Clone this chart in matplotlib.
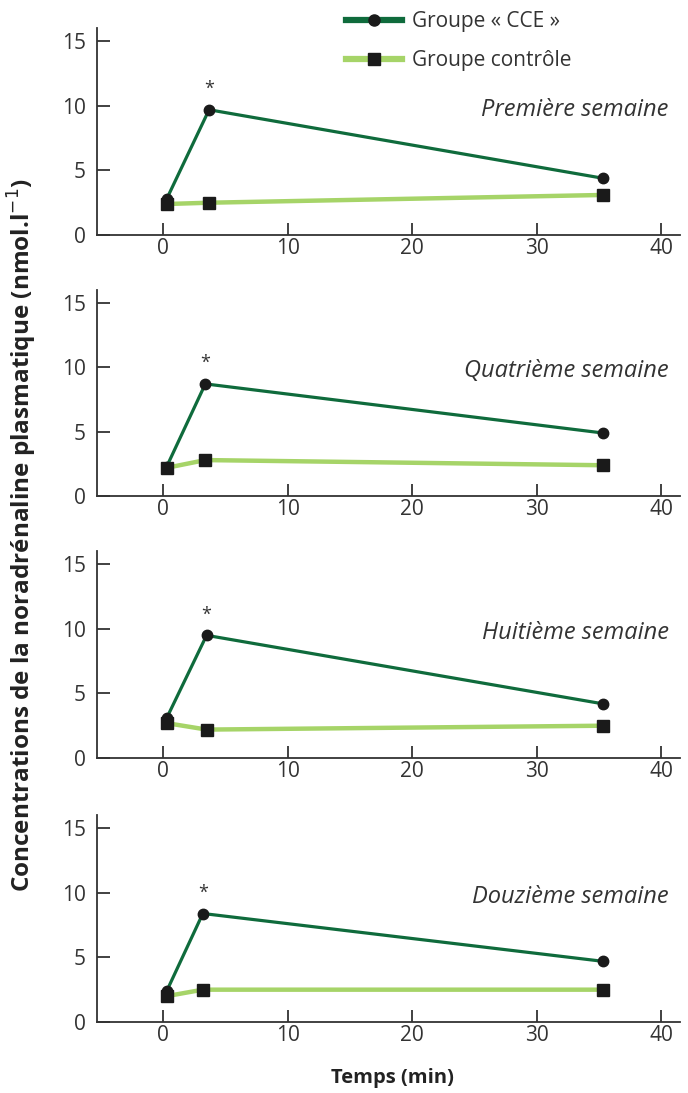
import matplotlib
matplotlib.use("Agg")
import matplotlib.pyplot as plt
from matplotlib.lines import Line2D

# data (time in min, noradrenaline in nmol/l)
semaines = ["Première semaine", "Quatrième semaine", "Huitième semaine", "Douzième semaine"]
t_cce = [[0.3, 3.7, 35.3], [0.3, 3.4, 35.3], [0.3, 3.5, 35.3], [0.3, 3.2, 35.3]]
cce = [[2.8, 9.7, 4.4], [2.3, 8.7, 4.9], [3.1, 9.5, 4.2], [2.4, 8.4, 4.7]]
t_ctrl = [[0.3, 3.7, 35.3], [0.3, 3.4, 35.3], [0.3, 3.5, 35.3], [0.3, 3.2, 35.3]]
ctrl = [[2.4, 2.5, 3.1], [2.2, 2.8, 2.4], [2.7, 2.2, 2.5], [2.0, 2.5, 2.5]]
xticks = [0, 10, 20, 30, 40]
yticks = [0, 5, 10, 15]

dark = "#0f6b3c"
light = "#a6d468"
font = "Open Sans"
plt.rcParams['font.family'] = [font, 'DejaVu Sans']

fig = plt.figure(figsize=(6.88, 10.93), dpi=100)

bottoms = [0.785, 0.546, 0.3065, 0.065]
for i in range(4):
    ax = fig.add_axes([0.141, bottoms[i], 0.847, 0.189])
    ax.plot(t_ctrl[i], ctrl[i], color=light, lw=3.2, marker="s", ms=9,
            mfc="#1a1a1a", mec="#1a1a1a", zorder=2)
    ax.plot(t_cce[i], cce[i], color=dark, lw=2.3, marker="o", ms=7.5,
            mfc="#1a1a1a", mec="#1a1a1a", zorder=3)
    ax.text(t_cce[i][1], cce[i][1] + 0.9, "*", ha="center", va="bottom",
            fontsize=13, color="#333333")
    ax.text(40.6, 9.7, semaines[i], ha="right", va="center", style="italic",
            fontsize=17, color="#333333")
    ax.set_xlim(-5.3, 41.5)
    ax.set_ylim(0, 16)
    ax.set_xticks(xticks)
    ax.set_yticks(yticks)
    ax.spines['right'].set_visible(False)
    ax.spines['top'].set_visible(False)
    for s in ('left', 'bottom'):
        ax.spines[s].set_color("#333333")
        ax.spines[s].set_linewidth(1.3)
    ax.tick_params(direction="in", length=9, width=1.3, color="#333333",
                   labelsize=15, labelcolor="#333333", pad=2)
    ax.tick_params(axis='y', pad=8)
    ax.patch.set_alpha(0)

fig.text(0.032, 0.51, "Concentrations de la noradrénaline plasmatique (nmol.l$^{-1}$)",
         rotation=90, ha="center", va="center", fontsize=17.5, fontweight="bold",
         color="#222222")
fig.text(0.57, 0.014, "Temps (min)", ha="center", va="center", fontsize=14.5,
         fontweight="bold", color="#222222")

handles = [
    Line2D([], [], color=dark, lw=4.5, marker="o", ms=8, mfc="#1a1a1a", mec="#1a1a1a"),
    Line2D([], [], color=light, lw=4.5, marker="s", ms=9, mfc="#1a1a1a", mec="#1a1a1a"),
]
fig.legend(handles, ["Groupe « CCE »", "Groupe contrôle"], loc="upper left",
           bbox_to_anchor=(0.475, 1.007), frameon=False, fontsize=15,
           handlelength=2.7, labelspacing=0.85, handletextpad=0.5,
           labelcolor="#333333")

fig.savefig("out.png", dpi=100)
